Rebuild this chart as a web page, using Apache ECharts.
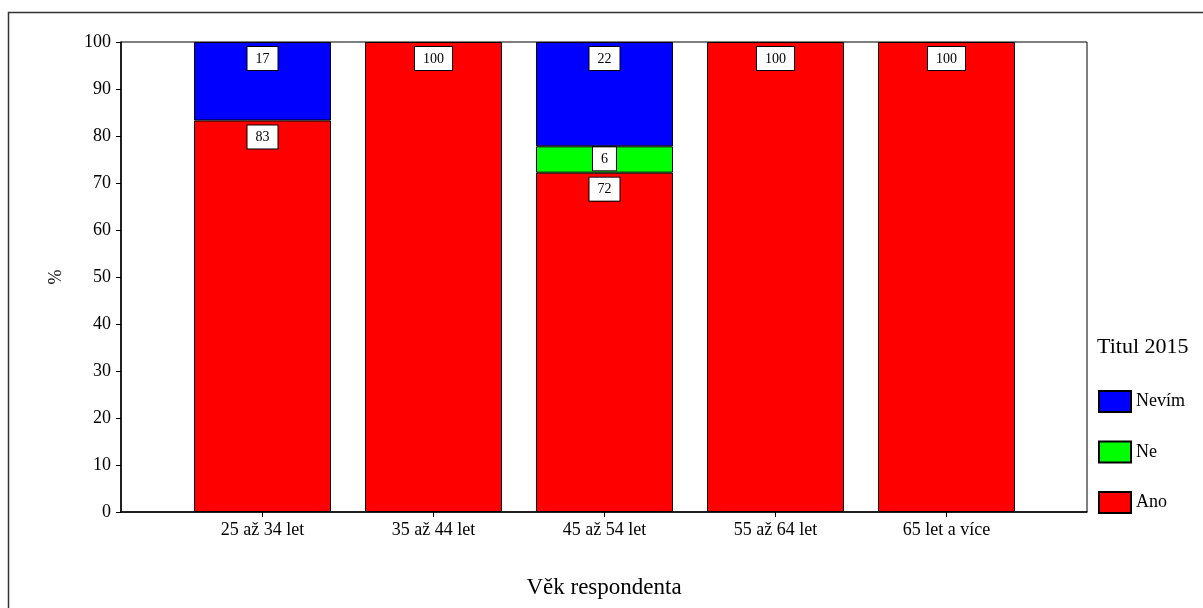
<!DOCTYPE html>
<html>
<head>
<meta charset="utf-8">
<script src="https://cdn.jsdelivr.net/npm/echarts@6/dist/echarts.min.js"></script>
<style>html,body{margin:0;padding:0;background:#fff;}#c{width:1203px;height:608px;}</style>
</head>
<body>
<div id="c"></div>
<script>
const categories = ['25 až 34 let', '35 až 44 let', '45 až 54 let', '55 až 64 let', '65 let a více'];
const ano = [83.3, 100, 72.2, 100, 100];
const ne = [0, 0, 5.6, 0, 0];
const nevim = [16.7, 0, 22.2, 0, 0];
const yTicks = [0, 10, 20, 30, 40, 50, 60, 70, 80, 90, 100];

const FONT = 'Liberation Serif';

const labelBase = {
  show: true,
  position: 'insideTop',
  distance: 5,
  formatter: p => (p.value ? String(Math.round(p.value)) : ''),
  color: '#000',
  fontFamily: FONT,
  fontSize: 14,
  lineHeight: 14,
  backgroundColor: '#fff',
  borderColor: '#000',
  borderWidth: 1,
  padding: [5, 8, 4, 8]
};

function mkSeries(name, arr, color, labelExtra) {
  return {
    name: name,
    type: 'bar',
    stack: 'total',
    xAxisIndex: 1,
    yAxisIndex: 1,
    barWidth: 137,
    data: arr.map(v => (v === 0 ? { value: 0, label: { show: false }, itemStyle: { borderWidth: 0 } } : v)),
    itemStyle: { color: color, borderColor: '#000', borderWidth: 1 },
    label: Object.assign({}, labelBase, labelExtra || {}),
    emphasis: { disabled: true },
    animation: false
  };
}

const chart = echarts.init(document.getElementById('c'), null, { renderer: 'canvas' });
chart.setOption({
  animation: false,
  backgroundColor: '#fff',
  textStyle: { fontFamily: FONT, color: '#000' },
  grid: [
    { left: 121, right: 116, top: 42, bottom: 96,
      show: true, borderColor: '#000', borderWidth: 1, backgroundColor: 'transparent' },
    { left: 177, right: 171, top: 42, bottom: 96 }
  ],
  title: {
    text: 'Titul 2015',
    left: 1097, top: 336,
    padding: 0,
    textStyle: { fontFamily: FONT, fontSize: 22, fontWeight: 'normal', color: '#000' }
  },
  legend: {
    orient: 'vertical',
    left: 1098, top: 390,
    padding: 0,
    icon: 'rect',
    itemWidth: 32, itemHeight: 21, itemGap: 27.5,
    data: ['Nevím', 'Ne', 'Ano'],
    textStyle: { fontFamily: FONT, fontSize: 18, color: '#000' },
    selectedMode: false
  },
  xAxis: [
    {
      gridIndex: 0,
      type: 'value', min: 0, max: 1,
      name: 'Věk respondenta',
      nameLocation: 'middle',
      nameGap: 64,
      nameTextStyle: { fontFamily: FONT, fontSize: 23, color: '#000' },
      axisLine: { show: true, onZero: false, lineStyle: { color: '#000', width: 1.5 } },
      axisTick: { show: false },
      axisLabel: { show: false },
      splitLine: { show: false }
    },
    {
      gridIndex: 1,
      type: 'category',
      data: categories,
      boundaryGap: true,
      axisLine: { show: false },
      axisTick: { show: true, alignWithLabel: true, length: 5, lineStyle: { color: '#000' } },
      axisLabel: { fontFamily: FONT, fontSize: 18, color: '#000', margin: 9, interval: 0 },
      splitLine: { show: false }
    }
  ],
  yAxis: [
    {
      gridIndex: 0,
      type: 'value',
      min: 0, max: 100, interval: 10,
      name: '%',
      nameLocation: 'middle',
      nameGap: 56,
      nameTextStyle: { fontFamily: FONT, fontSize: 18, color: '#000' },
      axisLine: { show: true, lineStyle: { color: '#000', width: 1.5 } },
      axisTick: { show: true, length: 5, lineStyle: { color: '#000' } },
      axisLabel: { fontFamily: FONT, fontSize: 18, color: '#000', margin: 10,
        formatter: v => (yTicks.indexOf(v) >= 0 ? String(v) : '') },
      splitLine: { show: false }
    },
    {
      gridIndex: 1,
      type: 'value',
      min: 0, max: 100, interval: 10,
      show: false,
      splitLine: { show: false }
    }
  ],
  graphic: [{
    type: 'rect',
    shape: { x: 8.5, y: 12.5, width: 1400, height: 800 },
    style: { fill: null, stroke: '#333', lineWidth: 1.5 },
    silent: true
  }],
  series: [
    mkSeries('Ano', ano, '#ff0000'),
    mkSeries('Ne', ne, '#00ff00', { distance: 1 }),
    mkSeries('Nevím', nevim, '#0000ff')
  ]
});
</script>
</body>
</html>
